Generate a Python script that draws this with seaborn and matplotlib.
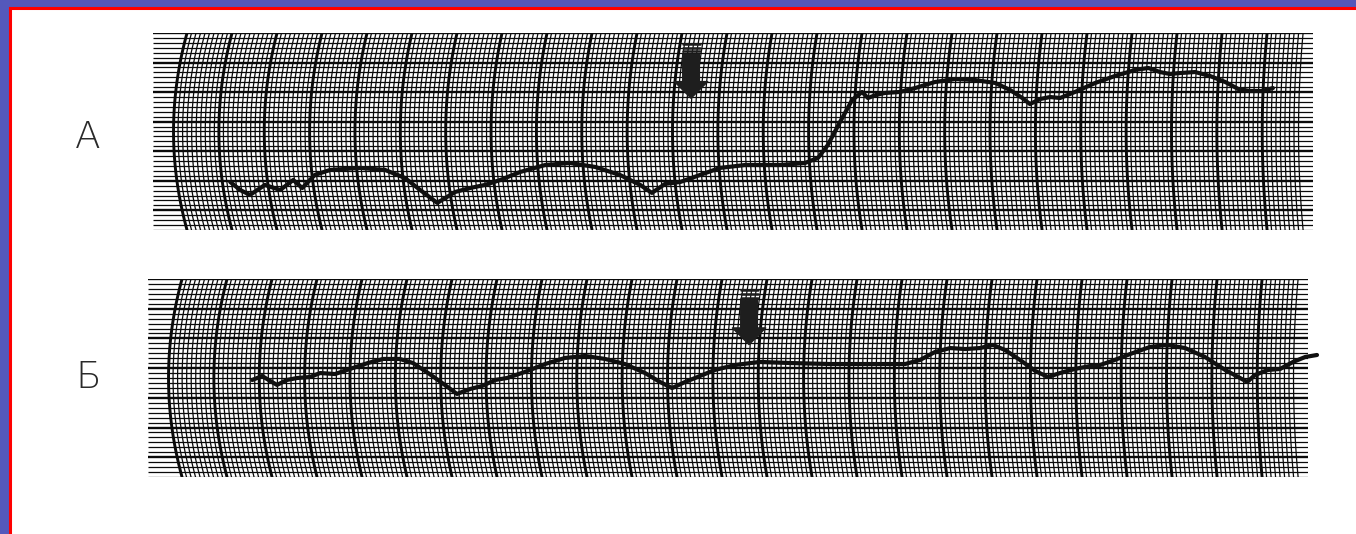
import numpy as np
import seaborn as sns
import matplotlib.pyplot as plt
from matplotlib.patches import Rectangle

# trace A: time (min) and heart rate (bpm)
time_a = [0.96, 1.18, 1.40, 1.73, 2.07, 2.36, 2.56, 2.84, 3.18, 3.84, 4.40, 4.84,
          5.18, 5.56, 5.96, 6.29, 6.62, 6.96, 7.40, 7.96, 8.51, 9.07, 9.62, 10.07,
          10.33, 10.62, 10.96, 11.40, 11.84, 12.40, 13.18, 13.73, 14.02, 14.24,
          14.51, 14.78, 15.00, 15.13, 15.31, 15.51, 15.84, 16.18, 16.62, 17.07,
          17.51, 17.96, 18.29, 18.56, 18.73, 18.96, 19.18, 19.40, 19.73, 20.18,
          20.62, 21.07, 21.36, 21.62, 21.84, 22.07, 22.40, 22.73, 23.07, 23.36,
          23.62, 23.89, 24.13]
rate_a = [89.0, 82.5, 78.5, 86.6, 82.5, 90.6, 84.1, 94.7, 98.8, 100.4, 98.8, 92.3,
          82.5, 72.0, 80.9, 84.1, 86.6, 90.6, 97.1, 102.8, 104.4, 101.2, 94.7, 86.6,
          80.1, 87.4, 89.0, 94.7, 100.4, 102.8, 102.8, 104.4, 108.5, 119.1,
          137.7, 155.6, 162.1, 157.2, 159.7, 161.3, 162.1, 165.3, 170.2, 172.6,
          171.8, 169.4, 163.7, 157.2, 152.3, 156.4, 158.0, 157.2, 162.1, 169.4,
          175.1, 180.0, 181.6, 178.3, 176.7, 177.5, 178.3, 175.1, 170.2, 164.5,
          162.9, 162.9, 165.3]

# trace Б
time_b = [1.56, 1.78, 1.96, 2.11, 2.33, 2.56, 2.84, 3.07, 3.40, 3.73, 4.13, 4.47,
          4.84, 5.13, 5.47, 5.84, 6.11, 6.40, 6.67, 6.96, 7.22, 7.62, 8.07, 8.51,
          8.96, 9.40, 9.84, 10.29, 10.62, 10.89, 11.18, 11.51, 11.84, 12.29, 12.84,
          13.51, 14.40, 15.29, 16.07, 16.40, 16.73, 17.07, 17.40, 17.73, 18.02,
          18.29, 18.62, 18.96, 19.24, 19.51, 19.84, 20.18, 20.40, 20.67, 21.07,
          21.51, 21.89, 22.29, 22.73, 23.18, 23.51, 23.67, 23.84, 24.13, 24.40,
          24.69, 24.96, 25.22]
rate_b = [128.4, 131.6, 127.6, 124.4, 128.4, 130.0, 130.8, 134.0, 133.2, 137.3,
          142.1, 145.4, 145.4, 142.1, 134.0, 124.4, 117.1, 121.1, 123.6, 128.4,
          130.0, 134.9, 141.3, 146.2, 147.8, 145.4, 141.3, 134.0, 126.8, 121.9,
          126.8, 131.6, 136.5, 140.5, 143.0, 142.1, 141.3, 141.3, 141.3, 144.6,
          151.0, 154.2, 153.4, 154.2, 156.7, 152.6, 144.6, 135.7, 130.8, 134.0,
          137.3, 139.7, 140.5, 143.8, 149.4, 155.1, 156.7, 154.2, 147.0, 136.5,
          130.0, 126.8, 132.4, 136.5, 137.3, 143.0, 147.0, 148.6]

# stimulus marks (arrows)
event_a = 11.2
event_b = 12.6

labels = ["А", "Б"]

sns.set_theme(style="white")
plt.rcParams["font.family"] = ["DejaVu Sans"]

fig = plt.figure(figsize=(13.56, 5.34), dpi=100)
fig.patch.set_facecolor("#5458bb")
fig.patches.append(Rectangle((10 / 1356, -0.02), 1.1, 1 - 8 / 534 + 0.02,
                             transform=fig.transFigure, facecolor="white",
                             edgecolor="#ff0000", lw=2.2, zorder=-10))

ax_a = fig.add_axes([153 / 1356, 1 - 230 / 534, 1160 / 1356, 197 / 534])
ax_b = fig.add_axes([148 / 1356, 1 - 477 / 534, 1160 / 1356, 198 / 534])

y_lo, y_hi = 50, 210
x_lo, x_hi = -0.756, 25.02
ys = np.linspace(y_lo, y_hi, 41)


def draw_paper(ax):
    # horizontal lines, heavier every 6th counted from the top
    for k in range(41):
        y = y_hi - 4 * k
        lw = 1.7 if k % 6 == 0 else 0.9
        ax.plot([x_lo, x_hi], [y, y], color="#0a0a0a", lw=lw,
                solid_capstyle="butt", zorder=1)
    # curved time lines from the pen arm
    for j in range(249):
        t = j / 10
        sag = 0.30 - 0.20 * t / 25
        xs = t - sag * (1 - ((ys - 130) / 80) ** 2)
        lw = 2.1 if j % 10 == 0 else 0.9
        ax.plot(xs, ys, color="#0a0a0a", lw=lw, zorder=1)
    ax.set_xlim(x_lo, x_hi)
    ax.set_ylim(y_lo, y_hi)
    ax.axis("off")


def draw_arrow(ax, t):
    for y in [201, 198, 195]:
        ax.plot([t - 0.19, t + 0.19], [y, y], color="#1e1e1e", lw=1.8, zorder=3)
    ax.annotate("", xy=(t, 157), xytext=(t, 193),
                arrowprops=dict(arrowstyle="simple,head_length=0.5,head_width=1.0,tail_width=0.5",
                                color="#1e1e1e", mutation_scale=24, shrinkA=0, shrinkB=0),
                zorder=3)


for ax, tm, rt, ev in [(ax_a, time_a, rate_a, event_a), (ax_b, time_b, rate_b, event_b)]:
    draw_paper(ax)
    sns.lineplot(x=tm, y=rt, ax=ax, color="#101010", lw=3.0, sort=False,
                 estimator=None, zorder=4)
    ax.lines[-1].set_clip_on(False)
    draw_arrow(ax, ev)

fig.text(88 / 1356, 1 - 137 / 534, labels[0], ha="center", va="center",
         fontsize=27, color="#2a2a2a", fontweight="light")
fig.text(88 / 1356, 1 - 378 / 534, labels[1], ha="center", va="center",
         fontsize=27, color="#2a2a2a", fontweight="light")

fig.savefig("out.png", dpi=100, facecolor=fig.get_facecolor())
